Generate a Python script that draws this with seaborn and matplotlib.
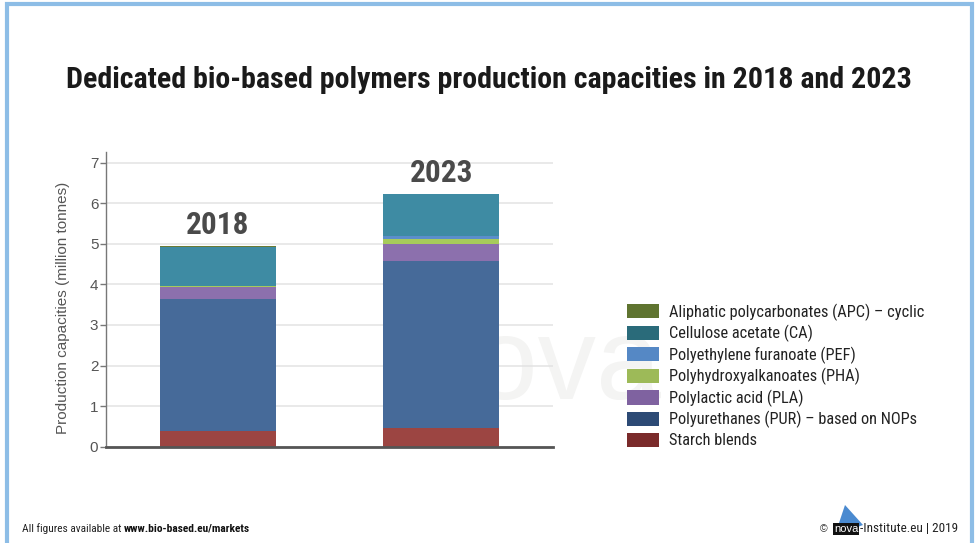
import numpy as np
import pandas as pd
import matplotlib
matplotlib.use("Agg")
import matplotlib.pyplot as plt
from matplotlib import font_manager
from matplotlib.patches import Patch, Rectangle, Polygon
import seaborn as sns

# --- data (million tonnes) ---
years = ["2018", "2023"]
polymers = [
    "Starch blends",
    "Polyurethanes (PUR) – based on NOPs",
    "Polylactic acid (PLA)",
    "Polyhydroxyalkanoates (PHA)",
    "Polyethylene furanoate (PEF)",
    "Cellulose acetate (CA)",
    "Aliphatic polycarbonates (APC) – cyclic",
]
starch = [0.39, 0.45]
pur = [3.24, 4.13]
pla = [0.31, 0.42]
pha = [0.02, 0.12]
pef = [0.00, 0.07]
ca = [0.97, 1.03]
apc = [0.01, 0.01]
yticks = [0, 1, 2, 3, 4, 5, 6, 7]

bar_colors = ["#9c4542", "#466a99", "#8c70ad", "#a7cb5b", "#5b8ecb", "#3e8ba3", "#6a7a34"]
legend_colors = ["#7a2a2a", "#2c4a75", "#7f62a0", "#9dba58", "#5588c5", "#2a6b7a", "#5f7430"]


def pick_font(cands):
    for c in cands:
        try:
            font_manager.findfont(font_manager.FontProperties(family=c), fallback_to_default=False)
            return c
        except Exception:
            continue
    return "DejaVu Sans"


sns.set_theme(style="white")
narrow = pick_font(["Liberation Sans Narrow", "Roboto Condensed", "Open Sans Condensed", "Liberation Sans"])
regular = pick_font(["Liberation Sans", "Arial", "DejaVu Sans"])
plt.rcParams["font.family"] = [regular, "DejaVu Sans"]

df = pd.DataFrame({"year": years, "Starch blends": starch, "PUR": pur, "PLA": pla,
                   "PHA": pha, "PEF": pef, "CA": ca, "APC": apc})
layer_cols = ["Starch blends", "PUR", "PLA", "PHA", "PEF", "CA", "APC"]
cum = df[layer_cols].cumsum(axis=1)

W, H = 978, 543
fig = plt.figure(figsize=(W / 100, H / 100), dpi=100)
fig.patch.set_facecolor("white")


def fx(px):
    return px / W


def fy(py):
    return 1 - py / H


# frame around the slide
fig.add_artist(Rectangle((fx(7), -0.05), fx(972 - 7), 1.05 - 4 / H,
                         transform=fig.transFigure, fill=False,
                         edgecolor="#8dbde6", linewidth=3, zorder=0))

# faint watermark behind the plot
fig.text(fx(535), fy(368), "nova", fontsize=84, color="#f4f4f3",
         ha="center", va="center", zorder=-1, family=regular)

ax = fig.add_axes([fx(106), fy(446.7), fx(553 - 106), (446.7 - 152) / H])
ax.set_facecolor("none")

# stacked bars: draw cumulative totals from the top layer downward
for col, color in zip(reversed(layer_cols), reversed(bar_colors)):
    sns.barplot(x=df["year"], y=cum[col], color=color, width=0.52,
                saturation=1, ax=ax, edgecolor="none", linewidth=0, zorder=3)

ax.set_xlim(-0.5, 1.5)
ax.set_ylim(0, 7.26)
ax.set_yticks(yticks)
ax.set_yticklabels([str(t) for t in yticks])
ax.set_xticks([])
ax.set_xlabel("")
ax.set_ylabel("Production capacities (million tonnes)", fontsize=11,
              color="#555555")
ax.yaxis.set_label_coords(-0.08, 0.47)
ax.grid(axis="y", color="#e3e3e3", linewidth=1.1, zorder=0)
ax.set_axisbelow(True)
for s in ["top", "right"]:
    ax.spines[s].set_visible(False)
ax.spines["left"].set_color("#777777")
ax.spines["left"].set_linewidth(1.0)
ax.spines["bottom"].set_color("#555555")
ax.spines["bottom"].set_linewidth(2.0)
ax.spines["bottom"].set_zorder(5)
ax.tick_params(axis="y", left=True, length=4, width=1, color="#777777",
               labelsize=11, labelcolor="#555555", pad=1.5)

# year labels above each bar
totals = cum["APC"].values
for i, (yr, tot) in enumerate(zip(years, totals)):
    ax.text(i, tot + 0.15, yr, ha="center", va="bottom", fontsize=22.5,
            fontweight="bold", color="#4a4a4a", family=[narrow, "DejaVu Sans"])

# legend
handles = [Patch(facecolor=c, edgecolor="none") for c in reversed(legend_colors)]
fig.legend(handles, list(reversed(polymers)), loc="center left",
           bbox_to_anchor=(fx(627), fy(376)), frameon=False,
           prop={"family": [narrow, "DejaVu Sans"], "size": 11.8},
           handlelength=1.95, handleheight=0.95, handletextpad=0.6,
           labelspacing=0.26, borderpad=0, borderaxespad=0, labelcolor="#222222")

# title
fig.text(0.5, fy(80), "Dedicated bio-based polymers production capacities in 2018 and 2023",
         ha="center", va="center", fontsize=21.6, fontweight="bold", color="#1a1a1a",
         family=[narrow, "DejaVu Sans"])

# footer
renderer = fig.canvas.get_renderer()
t1 = fig.text(fx(22), fy(529), "All figures available at ", fontsize=8.2,
              color="#222222", va="center", ha="left", family=[narrow, "DejaVu Sans"])
x_end = t1.get_window_extent(renderer).x1
fig.text(x_end / W, fy(529), "www.bio-based.eu/markets", fontsize=8.2,
         color="#111111", va="center", ha="left", fontweight="bold",
         family=[narrow, "DejaVu Sans"])

fig.text(fx(824), fy(529), "©", fontsize=7.5, color="#333333", va="center", ha="center")
fig.add_artist(Polygon([(fx(835), fy(535)), (fx(845), fy(505)), (fx(863), fy(525))],
                       closed=True, transform=fig.transFigure,
                       facecolor="#4a8ad0", edgecolor="none"))
fig.add_artist(Rectangle((fx(833), fy(535)), fx(26), 12 / H,
                         transform=fig.transFigure, facecolor="#111111", edgecolor="none"))
fig.text(fx(846), fy(529.5), "nova", fontsize=8, color="white", va="center",
         ha="center", family=[regular, "DejaVu Sans"])
fig.text(fx(860), fy(529), "-Institute.eu | 2019", fontsize=9.5,
         color="#222222", va="center", ha="left", family=[narrow, "DejaVu Sans"])

fig.savefig("out.png", dpi=100, facecolor="white")
